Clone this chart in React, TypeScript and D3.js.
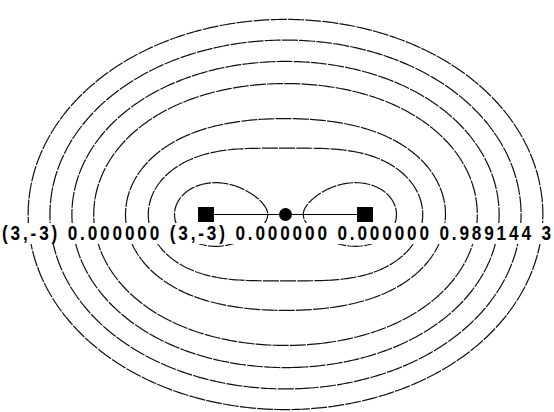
import React, { useMemo } from "react";
import * as d3 from "d3";

// Two sources on the horizontal axis (data units) and the marker between them
const sourceX = [-1, 1];
const sourceY = [0, 0];
const midX = [0];
const midY = [0];

// Iso-levels of the field r1 * r2 (product of distances to the sources)
const levels = [0.95, 1.98, 3.05, 4.82, 6.22, 7.78, 9.48];

const caption = "(3,-3) 0.000000 (3,-3) 0.000000 0.000000 0.989144 3";

const W = 554;
const H = 412;
const TEXT_SQUEEZE = 0.86;

export default function App() {
  const xScale = d3.scaleLinear().domain([-1, 1]).range([206, 365]);
  const yScale = d3.scaleLinear().domain([-1, 1]).range([214.5 + 67, 214.5 - 67]);

  const paths = useMemo(() => {
    const step = 3;
    const x0 = -30;
    const y0 = -30;
    const nx = Math.ceil((W + 60) / step);
    const ny = Math.ceil((H + 60) / step);
    const values = new Float64Array(nx * ny);
    for (let j = 0; j < ny; j++) {
      for (let i = 0; i < nx; i++) {
        const X = xScale.invert(x0 + (i + 0.5) * step);
        const Y = yScale.invert(y0 + (j + 0.5) * step);
        let p = 1;
        for (let k = 0; k < sourceX.length; k++) {
          p *= Math.hypot(X - sourceX[k], Y - sourceY[k]);
        }
        values[j * nx + i] = -p;
      }
    }
    const gen = d3.contours().size([nx, ny]).thresholds(levels.map((l) => -l));
    const polys = gen(Array.from(values));
    const proj = d3.geoIdentity().scale(step).translate([x0, y0]);
    const path = d3.geoPath(proj);
    return polys.map((g) => path(g as any) || "");
  }, []);

  return (
    <svg
      width={W}
      height={H}
      style={{ position: "absolute", left: 0, top: 0, background: "#fff" }}
    >
      <rect x={0} y={0} width={W} height={H} fill="#fff" />
      <g fill="none" stroke="#111" strokeWidth={1.2} strokeDasharray="16 1.2">
        {paths.map((d, i) => (
          <path key={i} d={d} />
        ))}
      </g>
      <line
        x1={xScale(sourceX[0])}
        x2={xScale(sourceX[1])}
        y1={yScale(sourceY[0])}
        y2={yScale(sourceY[1])}
        stroke="#000"
        strokeWidth={1.2}
      />
      {sourceX.map((sx, i) => (
        <rect
          key={i}
          x={xScale(sx) - 8}
          y={yScale(sourceY[i]) - 7.5}
          width={16}
          height={15}
          fill="#000"
        />
      ))}
      {midX.map((mx, i) => (
        <circle key={i} cx={xScale(mx)} cy={yScale(midY[i])} r={6.5} fill="#000" />
      ))}
      <rect x={0} y={223} width={W} height={21} fill="#fff" />
      <g transform={`scale(${TEXT_SQUEEZE},1)`}>
        <text
          x={2 / TEXT_SQUEEZE}
          y={240}
          fontFamily="'Liberation Sans', Arial, sans-serif"
          fontWeight="bold"
          fontSize={20}
          textLength={549 / TEXT_SQUEEZE}
          lengthAdjust="spacing"
          fill="#000"
        >
          {caption}
        </text>
      </g>
    </svg>
  );
}
